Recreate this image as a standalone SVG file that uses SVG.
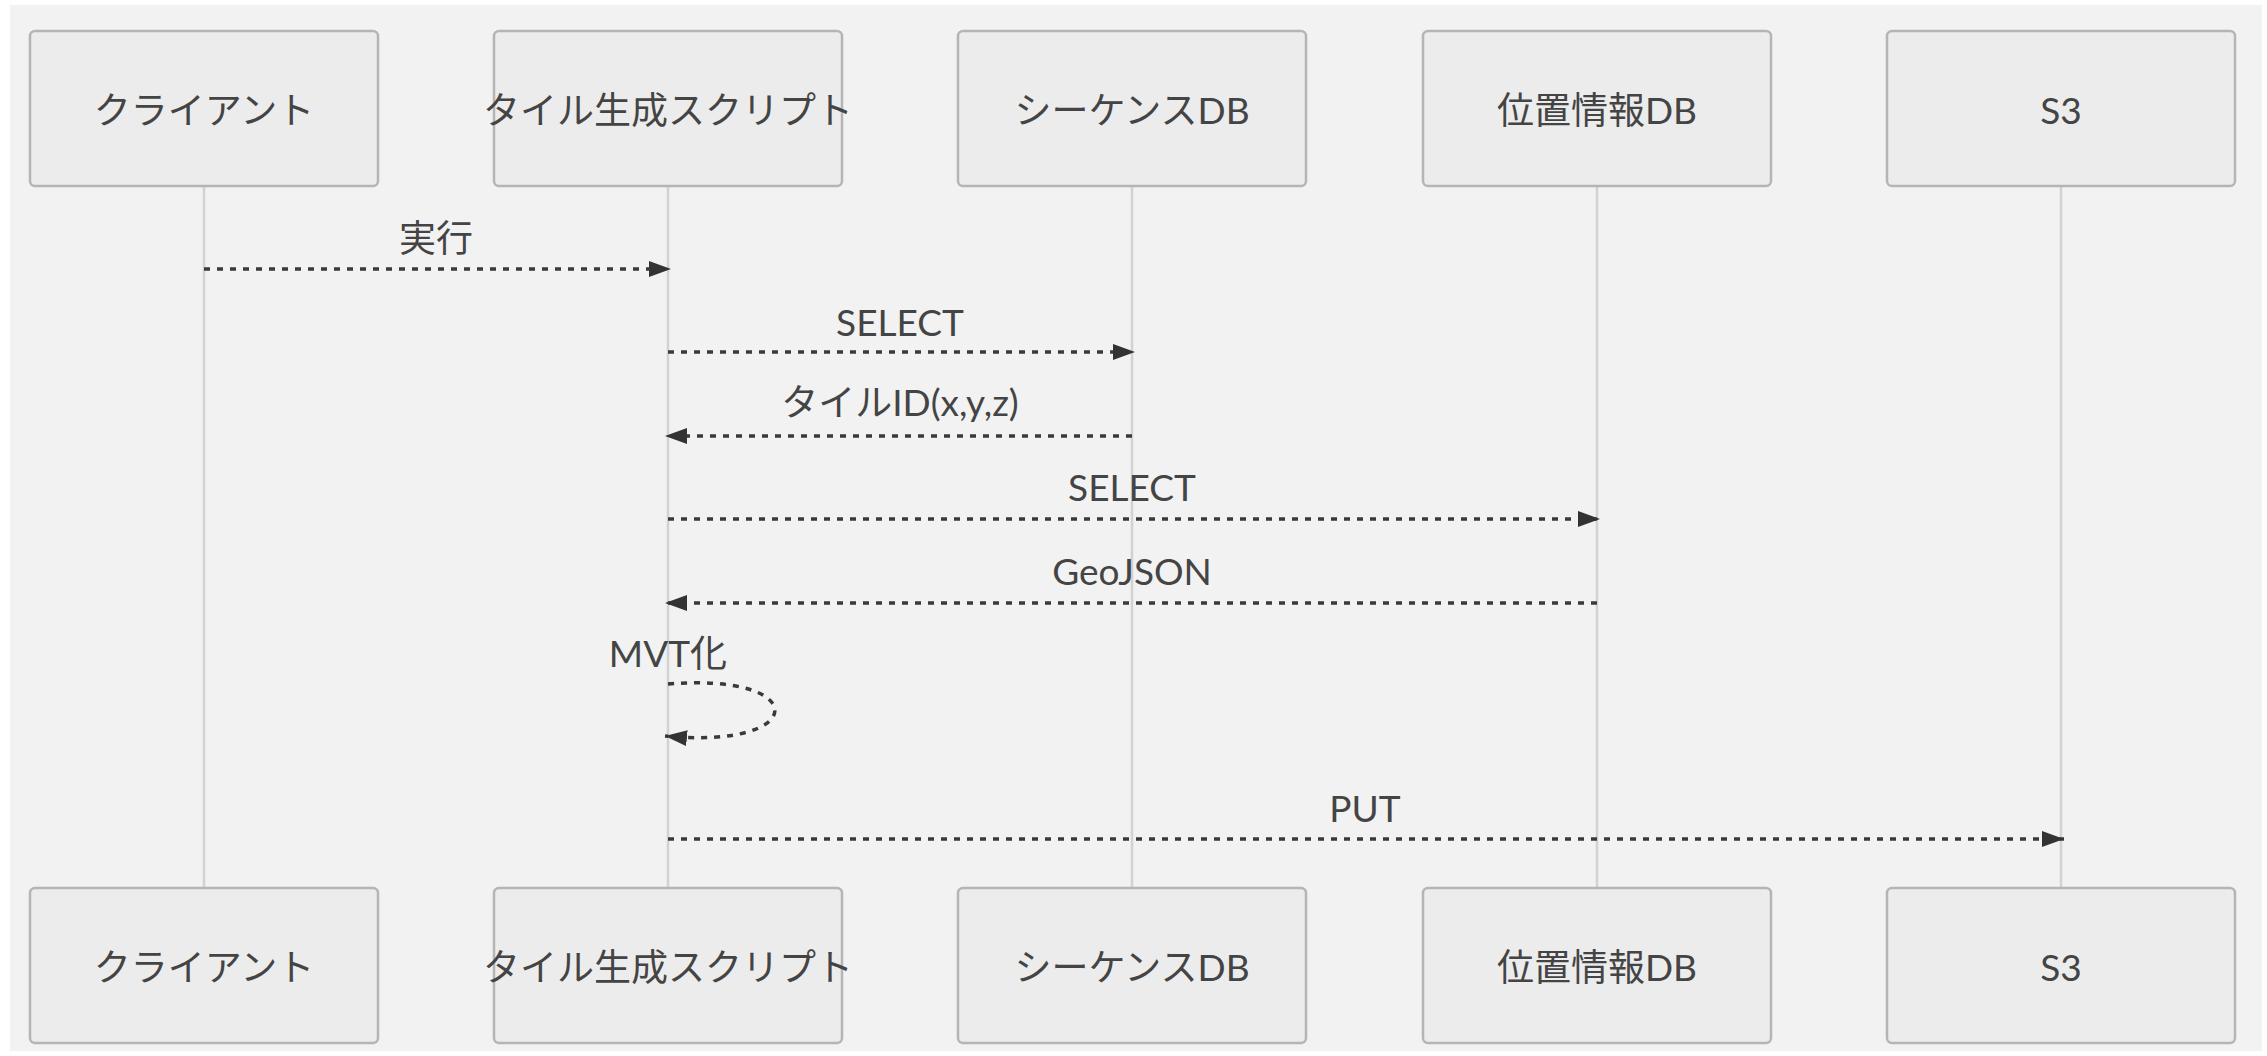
<svg xmlns="http://www.w3.org/2000/svg" width="2267" height="1056" viewBox="0 0 2267 1056">
<defs>
<style>
.bg{fill:#f2f2f2}
.actor rect{fill:#ececec;stroke:#b5b5b5;stroke-width:2.5}
.actor text{font-family:Lato,"Noto Sans CJK JP",sans-serif;font-size:37px;fill:#444;text-anchor:middle}
.life{stroke:#d2d2d2;stroke-width:2.5}
.msg{stroke:#3a3a3a;stroke-width:3.5;stroke-dasharray:6,7;fill:none}
.lbl{font-family:Lato,"Noto Sans CJK JP",sans-serif;font-size:37px;fill:#444;text-anchor:middle}
</style>
<marker id="arr" markerUnits="userSpaceOnUse" markerWidth="24" markerHeight="16" refX="22" refY="8" orient="auto">
<path d="M0,0 L22,8 L0,16 z" fill="#333"/>
</marker>
</defs>
<rect class="bg" x="10" y="5" width="2252" height="1046"/>
<g id="lifelines">
<line class="life" x1="204" y1="186" x2="204" y2="888"/>
<line class="life" x1="668" y1="186" x2="668" y2="888"/>
<line class="life" x1="1132" y1="186" x2="1132" y2="888"/>
<line class="life" x1="1597" y1="186" x2="1597" y2="888"/>
<line class="life" x1="2061" y1="186" x2="2061" y2="888"/>
</g>
<g id="actor-client-top" class="actor"><rect x="30" y="31" width="348" height="155" rx="5"/><text x="204" y="124">クライアント</text></g>
<g id="actor-script-top" class="actor"><rect x="494" y="31" width="348" height="155" rx="5"/><text x="668" y="124">タイル生成スクリプト</text></g>
<g id="actor-seq-top" class="actor"><rect x="958" y="31" width="348" height="155" rx="5"/><text x="1132" y="124">シーケンスDB</text></g>
<g id="actor-geo-top" class="actor"><rect x="1423" y="31" width="348" height="155" rx="5"/><text x="1597" y="124">位置情報DB</text></g>
<g id="actor-s3-top" class="actor"><rect x="1887" y="31" width="348" height="155" rx="5"/><text x="2061" y="124">S3</text></g>
<g id="actor-client-bottom" class="actor"><rect x="30" y="888" width="348" height="155" rx="5"/><text x="204" y="981">クライアント</text></g>
<g id="actor-script-bottom" class="actor"><rect x="494" y="888" width="348" height="155" rx="5"/><text x="668" y="981">タイル生成スクリプト</text></g>
<g id="actor-seq-bottom" class="actor"><rect x="958" y="888" width="348" height="155" rx="5"/><text x="1132" y="981">シーケンスDB</text></g>
<g id="actor-geo-bottom" class="actor"><rect x="1423" y="888" width="348" height="155" rx="5"/><text x="1597" y="981">位置情報DB</text></g>
<g id="actor-s3-bottom" class="actor"><rect x="1887" y="888" width="348" height="155" rx="5"/><text x="2061" y="981">S3</text></g>
<g id="connectors">
<line class="msg" x1="204" y1="269" x2="671" y2="269" marker-end="url(#arr)"/>
<text class="lbl" x="436" y="252">実行</text>
<line class="msg" x1="668" y1="352" x2="1135" y2="352" marker-end="url(#arr)"/>
<text class="lbl" x="900" y="336">SELECT</text>
<line class="msg" x1="1132" y1="436" x2="665" y2="436" marker-end="url(#arr)"/>
<text class="lbl" x="900" y="416">タイルID(x,y,z)</text>
<line class="msg" x1="668" y1="519" x2="1600" y2="519" marker-end="url(#arr)"/>
<text class="lbl" x="1132" y="501">SELECT</text>
<line class="msg" x1="1597" y1="603" x2="665" y2="603" marker-end="url(#arr)"/>
<text class="lbl" x="1132" y="585">GeoJSON</text>
<path class="msg" d="M668,684 C811,672 811,750 665,736" marker-end="url(#arr)"/>
<text class="lbl" x="668" y="667">MVT化</text>
<line class="msg" x1="668" y1="839" x2="2064" y2="839" marker-end="url(#arr)"/>
<text class="lbl" x="1365" y="822">PUT</text>
</g>
</svg>
